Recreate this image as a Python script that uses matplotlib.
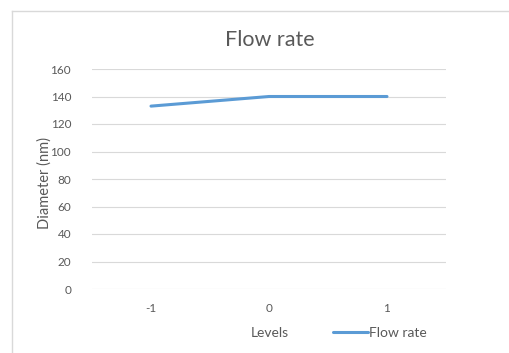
import matplotlib
matplotlib.use("Agg")
import matplotlib.pyplot as plt
from matplotlib.lines import Line2D

categories = ["-1", "0", "1"]
flow_rate = [133, 140, 140]
yticks = [0, 20, 40, 60, 80, 100, 120, 140, 160]

plt.rcParams['font.family'] = ['Lato', 'DejaVu Sans']
W, H = 510, 353
fig = plt.figure(figsize=(W/100, H/100), dpi=100)
fig.patch.set_facecolor('white')

# chart border (top and left visible)
fig.add_artist(Line2D([12.5/W, 1], [1 - 11/H, 1 - 11/H], transform=fig.transFigure, color='#d9d9d9', linewidth=1.0))
fig.add_artist(Line2D([12.5/W, 12.5/W], [0, 1 - 11/H], transform=fig.transFigure, color='#d9d9d9', linewidth=1.0))

ax = fig.add_axes([92/W, 1 - 289/H, (446-92)/W, (289-69)/H])
x = range(len(categories))
ax.plot(x, flow_rate, color='#5B9BD5', linewidth=2.2, solid_capstyle='round', label='Flow rate', zorder=3)
ax.set_xlim(-0.5, len(categories) - 0.5)
ax.set_ylim(0, 160)
ax.set_yticks(yticks)
ax.set_xticks(list(x))
ax.set_xticklabels(categories)
ax.grid(axis='y', color='#d9d9d9', linewidth=0.8)
ax.set_axisbelow(True)
for s in ax.spines.values():
    s.set_visible(False)
ax.tick_params(length=0, colors='#595959', labelsize=8.5)
ax.tick_params(axis='y', pad=15)
ax.tick_params(axis='x', pad=10)

fig.text(270/W, 1 - 40/H, 'Flow rate', ha='center', va='center', fontsize=15.5, color='#595959')
fig.text(45/W, 1 - 183/H, 'Diameter (nm)', ha='center', va='center', rotation=90, fontsize=10.5, color='#595959')
fig.text(270/W, 1 - 333/H, 'Levels', ha='center', va='center', fontsize=10, color='#595959')

leg = fig.legend(loc='center left', bbox_to_anchor=(333/W, 1 - 333/H), frameon=False, fontsize=10,
                 handlelength=2.5, handletextpad=0.1, borderpad=0, borderaxespad=0)
for t in leg.get_texts():
    t.set_color('#595959')

fig.savefig('out.png', dpi=100, facecolor='white')
